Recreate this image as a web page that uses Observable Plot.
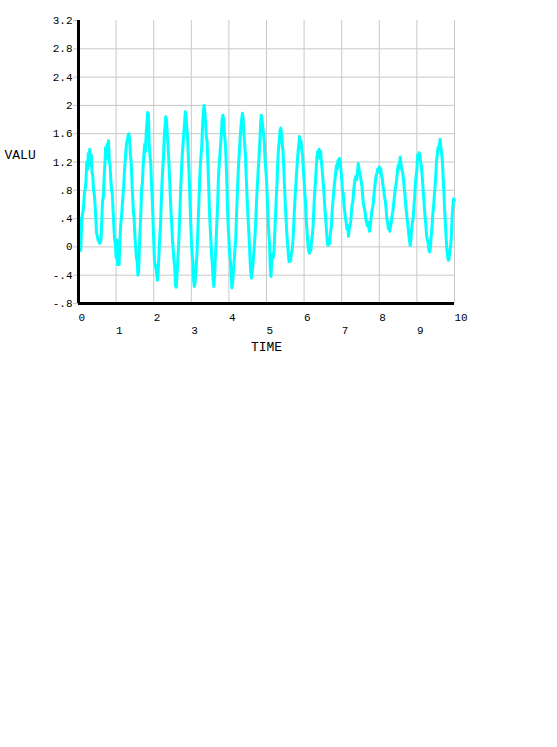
<!DOCTYPE html>
<html><head><meta charset="utf-8">
<script src="https://cdn.jsdelivr.net/npm/d3@7"></script>
<script src="https://cdn.jsdelivr.net/npm/@observablehq/plot@0.6"></script>
<style>body{margin:0;background:#fff;}</style>
</head><body><div id="chart"></div>
<script>
// sampling interval of the TIME axis (seconds)
const timeStep = 0.02;
// VALU readings, one array per second (50 samples each)
const sec0 = [0.32,0.05,0.40,-0.05,0.30,0.45,0.50,0.62,0.78,0.82,
  0.95,1.20,1.10,1.32,1.20,1.38,1.15,1.30,1.05,1.00,
  0.80,0.75,0.60,0.40,0.20,0.15,0.10,0.08,0.05,0.06,
  0.10,0.40,0.65,0.70,0.95,1.15,1.40,1.25,1.45,1.30,
  1.50,1.20,1.15,0.95,0.80,0.75,0.50,0.30,0.10,0.05];
const sec1 = [-0.15,0.10,-0.25,-0.05,-0.25,0.05,0.30,0.40,0.55,0.70,
  0.85,1.05,1.20,1.35,1.47,1.50,1.58,1.60,1.50,1.30,
  1.20,0.95,0.70,0.50,0.40,0.15,0.00,-0.15,-0.20,-0.40,
  -0.35,0.00,0.26,0.50,0.83,0.90,1.15,1.30,1.45,1.35,
  1.60,1.75,1.90,1.88,1.45,1.30,1.20,0.90,0.70,0.40];
const sec2 = [0.10,-0.20,-0.25,-0.30,-0.40,-0.47,-0.35,-0.10,0.12,0.30,
  0.60,0.90,1.10,1.25,1.55,1.70,1.84,1.80,1.60,1.45,
  1.25,1.00,0.75,0.50,0.30,0.10,-0.05,-0.20,-0.30,-0.55,
  -0.57,-0.40,-0.20,-0.02,0.25,0.55,0.85,1.10,1.30,1.45,
  1.60,1.75,1.91,1.85,1.70,1.55,1.30,1.05,0.75,0.40];
const sec3 = [0.12,-0.10,-0.20,-0.45,-0.56,-0.50,-0.35,-0.20,0.02,0.30,
  0.60,0.90,1.15,1.30,1.44,1.70,1.90,2.00,1.90,1.75,
  1.55,1.50,1.20,0.90,0.55,0.30,0.10,-0.12,-0.25,-0.45,
  -0.56,-0.40,-0.15,0.10,0.35,0.60,0.95,1.15,1.30,1.45,
  1.60,1.80,1.86,1.80,1.60,1.50,1.30,1.00,0.60,0.30];
const sec4 = [0.10,-0.10,-0.20,-0.40,-0.58,-0.50,-0.35,-0.20,-0.05,0.10,
  0.40,0.70,0.95,1.20,1.35,1.55,1.70,1.80,1.89,1.80,
  1.60,1.45,1.30,1.00,0.75,0.50,0.30,0.10,-0.15,-0.35,
  -0.44,-0.35,-0.25,-0.10,0.05,0.20,0.45,0.70,0.90,1.10,
  1.25,1.45,1.70,1.86,1.80,1.70,1.60,1.50,1.25,1.10];
const sec5 = [0.95,0.70,0.45,0.20,0.05,-0.30,-0.42,-0.20,-0.10,-0.15,
  -0.05,0.20,0.45,0.70,0.90,1.20,1.40,1.50,1.65,1.68,
  1.60,1.45,1.35,1.10,0.85,0.60,0.40,0.20,0.05,-0.10,
  -0.21,-0.15,-0.20,-0.10,-0.05,0.05,0.25,0.50,0.70,0.87,
  1.05,1.20,1.35,1.45,1.56,1.40,1.50,1.35,1.30,1.10];
const sec6 = [0.95,0.75,0.60,0.35,0.20,0.05,-0.05,-0.09,0.00,-0.05,
  0.10,0.17,0.30,0.55,0.75,0.90,1.10,1.25,1.35,1.30,
  1.38,1.25,1.35,1.20,1.10,0.95,0.83,0.65,0.50,0.35,
  0.20,0.05,0.02,0.08,0.05,0.20,0.26,0.45,0.60,0.73,
  0.85,0.95,1.05,1.15,1.10,1.22,1.15,1.25,1.20,1.10];
const sec7 = [0.95,0.80,0.75,0.60,0.50,0.40,0.35,0.25,0.30,0.15,
  0.25,0.30,0.36,0.50,0.60,0.65,0.80,0.90,0.97,1.00,
  0.95,1.05,1.18,1.10,1.05,1.00,0.92,0.85,0.70,0.60,
  0.55,0.50,0.40,0.35,0.30,0.35,0.28,0.22,0.30,0.40,
  0.50,0.55,0.62,0.75,0.85,0.95,1.01,1.05,1.10,1.08];
const sec8 = [1.13,1.05,1.10,1.00,0.97,0.85,0.80,0.70,0.65,0.55,
  0.40,0.35,0.26,0.30,0.22,0.30,0.35,0.45,0.50,0.60,
  0.70,0.80,0.87,0.95,1.05,1.15,1.10,1.20,1.27,1.15,
  1.10,1.05,0.97,0.85,0.75,0.60,0.50,0.40,0.30,0.20,
  0.10,0.02,0.10,0.25,0.35,0.40,0.55,0.70,0.90,1.00];
const sec9 = [1.10,1.30,1.25,1.33,1.30,1.20,1.13,1.00,0.85,0.70,
  0.55,0.40,0.30,0.15,0.10,0.05,-0.05,-0.07,0.00,0.15,
  0.26,0.45,0.55,0.70,0.83,1.00,1.20,1.30,1.40,1.38,
  1.45,1.52,1.40,1.30,1.20,0.95,0.75,0.50,0.30,0.10,
  -0.05,-0.15,-0.19,-0.15,-0.05,0.02,0.20,0.45,0.59,0.68];
const last = [0.66];

const xTicksEven = [0, 2, 4, 6, 8, 10];
const xTicksOdd = [1, 3, 5, 7, 9];
const xGrid = [0, 1, 2, 3, 4, 5, 6, 7, 8, 9, 10];
const yTicks = [-0.8, -0.4, 0, 0.4, 0.8, 1.2, 1.6, 2, 2.4, 2.8, 3.2];
const yLabels = ["-.8", "-.4", "0", ".4", ".8", "1.2", "1.6", "2", "2.4", "2.8", "3.2"];

const valu = [...sec0, ...sec1, ...sec2, ...sec3, ...sec4, ...sec5, ...sec6, ...sec7, ...sec8, ...sec9, ...last];
const data = valu.map((v, i) => ({time: +(i * timeStep).toFixed(2), valu: v}));
const yFmt = d => yLabels[yTicks.findIndex(t => Math.abs(t - d) < 1e-9)];

const font = "'Liberation Mono', 'DejaVu Sans Mono', monospace";
const grid = "#c8c8c8";

const chart = Plot.plot({
  width: 557, height: 360,
  marginLeft: 78, marginRight: 103, marginTop: 20, marginBottom: 57,
  style: {fontFamily: font, fontSize: "11px", color: "#000", background: "#fff"},
  x: {domain: [0, 10]},
  y: {domain: [-0.8, 3.2]},
  marks: [
    Plot.gridX(xGrid, {stroke: grid, strokeOpacity: 1}),
    Plot.gridY(yTicks.filter(d => d < 3.2), {stroke: grid, strokeOpacity: 1}),
    Plot.axisY(yTicks, {text: null, tickSize: 5, stroke: grid, strokeOpacity: 1, label: null}),
    Plot.line(data, {x: "time", y: "valu", stroke: "#00ffff", strokeWidth: 3}),
    Plot.ruleX([0], {stroke: "#000", strokeWidth: 3}),
    Plot.ruleY([-0.8], {stroke: "#000", strokeWidth: 3}),
    Plot.axisY(yTicks, {tickSize: 0, tickPadding: 6, tickFormat: yFmt, label: null, fontSize: 11}),
    Plot.axisX(xTicksEven, {tickSize: 0, tickPadding: 10, textAnchor: "start", dx: 0, tickFormat: d => String(d), label: null, fontSize: 11}),
    Plot.axisX(xTicksOdd, {tickSize: 0, tickPadding: 23, textAnchor: "start", dx: 0, tickFormat: d => String(d), label: null, fontSize: 11}),
    Plot.text(["TIME"], {frameAnchor: "bottom", dy: 47, fontSize: 13, fill: "#000"}),
    Plot.text(["VALU"], {frameAnchor: "left", textAnchor: "start", dx: -74, dy: -7, fontSize: 13, fill: "#000"})
  ]
});
document.getElementById("chart").append(chart);
</script>
</body></html>
